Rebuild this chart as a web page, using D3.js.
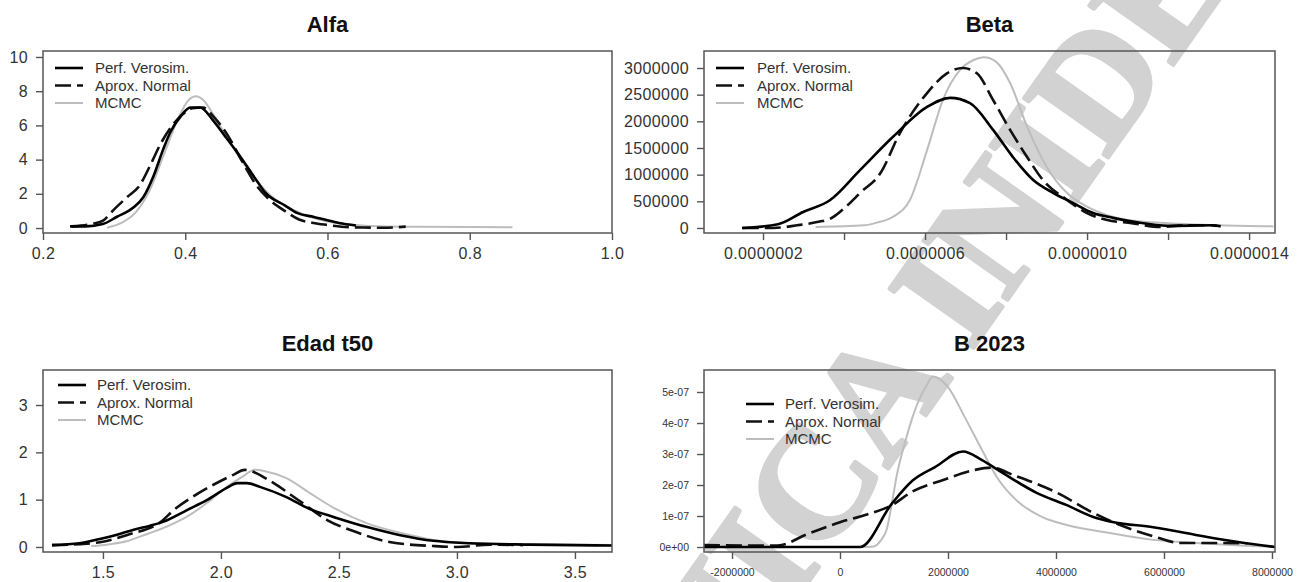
<!doctype html>
<html lang="es">
<head>
  <meta charset="utf-8">
  <script src="https://cdnjs.cloudflare.com/ajax/libs/d3/7.8.5/d3.min.js"></script>
  <style>
    html, body {margin:0; padding:0; background:#fff;}
    svg {display:block;}
    .tick text {font-family:"Liberation Sans", Arial, sans-serif; fill:#333;}
    .tick line {stroke:#555; stroke-width:1.4;}
    .title {font-family:"Liberation Sans", Arial, sans-serif; font-weight:bold; font-size:22px; fill:#111;}
    .legend text {font-family:"Liberation Sans", Arial, sans-serif; font-size:15px; fill:#333;}
  </style>
</head>
<body>
<svg id="chart" width="1309" height="582"></svg>
<script>
// ---- data ----
var seriesNames = ["Perf. Verosim.", "Aprox. Normal", "MCMC"];

// Alfa
var alfaPerf = [[0.238,0.1],[0.26,0.1],[0.284,0.23],[0.304,0.66],[0.327,1.2],[0.341,1.8],[0.355,3.0],[0.369,4.6],
  [0.379,5.6],[0.393,6.5],[0.407,7.05],[0.421,7.05],[0.439,6.3],[0.459,5.2],[0.477,4.2],[0.5,2.8],[0.512,2.1],
  [0.541,1.3],[0.558,0.87],[0.581,0.65],[0.6,0.45],[0.616,0.3],[0.64,0.15]];
var alfaNormal = [[0.24,0.1],[0.27,0.25],[0.285,0.45],[0.299,1.05],[0.318,1.8],[0.336,2.5],[0.35,3.6],[0.365,4.9],
  [0.38,5.9],[0.395,6.6],[0.41,7.0],[0.425,7.05],[0.44,6.5],[0.46,5.4],[0.48,3.9],[0.5,2.5],[0.52,1.6],[0.54,1.0],
  [0.56,0.5],[0.58,0.3],[0.6,0.18],[0.62,0.08],[0.65,0.03],[0.68,0.02],[0.71,0.08]];
var alfaMcmc = [[0.29,0.02],[0.31,0.3],[0.33,0.9],[0.35,2.2],[0.37,4.3],[0.39,6.4],[0.405,7.5],[0.415,7.7],[0.425,7.5],
  [0.44,6.6],[0.46,5.2],[0.48,3.9],[0.5,2.8],[0.52,1.9],[0.55,1.1],[0.58,0.6],[0.6,0.38],[0.63,0.2],[0.67,0.1],
  [0.72,0.07],[0.86,0.05]];
var alfaXTicks = [0.2, 0.4, 0.6, 0.8, 1.0];
var alfaXLabels = ["0.2", "0.4", "0.6", "0.8", "1.0"];
var alfaYTicks = [0, 2, 4, 6, 8, 10];
var alfaYLabels = ["0", "2", "4", "6", "8", "10"];

// Beta
var betaPerf = [[1.48e-7,0.0],[2.37e-7,0.07e6],[2.99e-7,0.3e6],[3.65e-7,0.52e6],[4.4e-7,1.09e6],[5.21e-7,1.71e6],
  [6.05e-7,2.27e6],[6.62e-7,2.44e6],[7.11e-7,2.34e6],[7.68e-7,1.84e6],[8.17e-7,1.33e6],[8.67e-7,0.9e6],
  [9.16e-7,0.66e6],[9.65e-7,0.47e6],[10.15e-7,0.28e6],[10.64e-7,0.19e6],[11.2e-7,0.11e6],[12.0e-7,0.04e6],
  [13.1e-7,0.05e6],[13.3e-7,0.03e6]];
var betaNormal = [[1.5e-7,0.0],[2.25e-7,0.0],[2.84e-7,0.05e6],[3.4e-7,0.12e6],[3.65e-7,0.17e6],[4.05e-7,0.4e6],
  [4.4e-7,0.66e6],[4.9e-7,1.03e6],[5.38e-7,1.78e6],[6.05e-7,2.53e6],[6.54e-7,2.9e6],[6.94e-7,3.0e6],[7.28e-7,2.9e6],
  [7.68e-7,2.4e6],[8.1e-7,1.84e6],[8.52e-7,1.33e6],[8.91e-7,0.9e6],[9.5e-7,0.53e6],[10.0e-7,0.28e6],
  [10.5e-7,0.15e6],[11.1e-7,0.09e6],[11.8e-7,0.02e6],[12.4e-7,0.05e6],[13.05e-7,0.05e6],[13.2e-7,0.04e6]];
var betaMcmc = [[3.3e-7,0.02e6],[4.5e-7,0.05e6],[4.81e-7,0.1e6],[5.21e-7,0.21e6],[5.63e-7,0.53e6],[6.05e-7,1.46e6],
  [6.44e-7,2.4e6],[6.86e-7,2.96e6],[7.2e-7,3.15e6],[7.45e-7,3.2e6],[7.75e-7,3.12e6],[8.1e-7,2.72e6],[8.52e-7,1.9e6],
  [9.0e-7,1.15e6],[9.5e-7,0.66e6],[10.0e-7,0.4e6],[10.5e-7,0.24e6],[11.0e-7,0.15e6],[11.8e-7,0.1e6],
  [13.3e-7,0.05e6],[14.6e-7,0.03e6]];
var betaXTicks = [2e-7, 4e-7, 6e-7, 8e-7, 10e-7, 12e-7, 14e-7];
var betaXLabels = ["0.0000002", "", "0.0000006", "", "0.0000010", "", "0.0000014"];
var betaYTicks = [0, 0.5e6, 1e6, 1.5e6, 2e6, 2.5e6, 3e6];
var betaYLabels = ["0", "500000", "1000000", "1500000", "2000000", "2500000", "3000000"];

// Edad t50
var edadPerf = [[1.284,0.04],[1.4,0.08],[1.487,0.17],[1.56,0.26],[1.627,0.36],[1.7,0.45],[1.754,0.53],[1.856,0.78],
  [1.94,0.99],[2.025,1.25],[2.07,1.35],[2.11,1.35],[2.165,1.27],[2.275,1.06],[2.377,0.8],[2.48,0.63],[2.62,0.42],
  [2.76,0.25],[2.9,0.13],[3.05,0.08],[3.31,0.05],[3.66,0.03]];
var edadNormal = [[1.284,0.04],[1.4,0.06],[1.487,0.1],[1.6,0.25],[1.75,0.55],[1.8,0.78],[1.88,1.06],[1.966,1.31],
  [2.05,1.52],[2.1,1.63],[2.13,1.6],[2.2,1.42],[2.34,0.95],[2.45,0.57],[2.57,0.32],[2.72,0.1],[2.9,0.02],[3.0,0.0],
  [3.14,0.05],[3.28,0.04]];
var edadMcmc = [[1.45,0.02],[1.53,0.06],[1.6,0.12],[1.657,0.22],[1.77,0.43],[1.856,0.64],[1.94,0.93],[2.025,1.27],
  [2.09,1.48],[2.144,1.63],[2.187,1.6],[2.275,1.46],[2.377,1.14],[2.48,0.82],[2.62,0.5],[2.76,0.3],[2.9,0.15],
  [3.05,0.08],[3.31,0.06],[3.66,0.04]];
var edadXTicks = [1.5, 2.0, 2.5, 3.0, 3.5];
var edadXLabels = ["1.5", "2.0", "2.5", "3.0", "3.5"];
var edadYTicks = [0, 1, 2, 3];
var edadYLabels = ["0", "1", "2", "3"];

// B 2023
var b23Perf = [[-2.52e6,0],[0.37e6,0],[0.96e6,1.4e-7],[1.35e6,2.15e-7],[1.76e6,2.58e-7],[2.28e6,3.08e-7],
  [2.63e6,2.8e-7],[3.02e6,2.38e-7],[3.65e6,1.74e-7],[4.2e6,1.35e-7],[4.69e6,0.97e-7],[5.07e6,0.8e-7],
  [5.8e6,0.64e-7],[6.59e6,0.39e-7],[7.37e6,0.16e-7],[8.06e6,0]];
var b23Normal = [[-2.52e6,0.06e-7],[-1.6e6,0.05e-7],[-1.15e6,0.05e-7],[-0.6e6,0.42e-7],[0,0.8e-7],[0.5e6,1.05e-7],
  [0.96e6,1.35e-7],[1.33e6,1.78e-7],[1.91e6,2.16e-7],[2.48e6,2.48e-7],[2.8e6,2.56e-7],[3.24e6,2.3e-7],
  [4.02e6,1.75e-7],[4.69e6,1.1e-7],[5.2e6,0.7e-7],[5.8e6,0.35e-7],[6.3e6,0.13e-7],[7.07e6,0.13e-7],[7.55e6,0.12e-7]];
var b23Mcmc = [[0.4e6,0],[0.62e6,0.02e-7],[0.75e6,0.2e-7],[0.87e6,0.6e-7],[0.97e6,1.5e-7],[1.05e6,2.3e-7],
  [1.2e6,3.35e-7],[1.44e6,4.65e-7],[1.6e6,5.2e-7],[1.72e6,5.5e-7],[2.0e6,5.16e-7],[2.31e6,4.19e-7],[2.63e6,3.13e-7],
  [2.94e6,2.16e-7],[3.26e6,1.52e-7],[3.74e6,0.97e-7],[4.2e6,0.71e-7],[5.0e6,0.45e-7],[5.8e6,0.23e-7],
  [6.59e6,0.13e-7],[7.4e6,0.05e-7],[8.06e6,0]];
var b23XTicks = [-2e6, 0, 2e6, 4e6, 6e6, 8e6];
var b23XLabels = ["-2000000", "0", "2000000", "4000000", "6000000", "8000000"];
var b23YTicks = [0, 1e-7, 2e-7, 3e-7, 4e-7, 5e-7];
var b23YLabels = ["0e+00", "1e-07", "2e-07", "3e-07", "4e-07", "5e-07"];

// ---- layout ----
var panels = [
  {title:"Alfa", left:43, right:612, top:51, bottom:233, xDomain:[0.2, 1.0], yDomain:[-0.29, 10.35],
   series:[alfaPerf, alfaNormal, alfaMcmc], xTicks:alfaXTicks, xLabels:alfaXLabels, yTicks:alfaYTicks, yLabels:alfaYLabels,
   fontSize:16, legend:{dx:12, dy:17, textDx:52}},
  {title:"Beta", left:704, right:1275, top:51, bottom:233, xDomain:[0.543e-7, 14.64e-7], yDomain:[-0.094e6, 3.319e6],
   series:[betaPerf, betaNormal, betaMcmc], xTicks:betaXTicks, xLabels:betaXLabels, yTicks:betaYTicks, yLabels:betaYLabels,
   fontSize:16, legend:{dx:12, dy:17, textDx:53}},
  {title:"Edad t50", left:43, right:612, top:370, bottom:552, xDomain:[1.246, 3.657], yDomain:[-0.106, 3.74],
   series:[edadPerf, edadNormal, edadMcmc], xTicks:edadXTicks, xLabels:edadXLabels, yTicks:edadYTicks, yLabels:edadYLabels,
   fontSize:16, legend:{dx:15, dy:15, textDx:54}},
  {title:"B 2023", left:704, right:1275, top:370, bottom:552, xDomain:[-2.519e6, 8.056e6], yDomain:[-0.161e-7, 5.71e-7],
   series:[b23Perf, b23Normal, b23Mcmc], xTicks:b23XTicks, xLabels:b23XLabels, yTicks:b23YTicks, yLabels:b23YLabels,
   fontSize:10.5, legend:{dx:42, dy:34, textDx:81}}
];

var styles = [
  {color:"#000", width:2.6, dash:null},
  {color:"#111", width:2.6, dash:"16,6"},
  {color:"#bdbdbd", width:2, dash:null}
];

var svg = d3.select("#chart");
svg.append("rect").attr("width", 1309).attr("height", 582).attr("fill", "#fff");

// watermark, sits under the plots
svg.append("g")
  .attr("transform", "translate(869,406) rotate(-54.8)")
  .append("text")
  .attr("text-anchor", "middle").attr("y", 52)
  .style("font-family", "'Liberation Serif', 'Times New Roman', serif")
  .style("font-weight", "bold").style("font-size", "157px")
  .attr("fill", "#d2d2d2")
  .attr("stroke", "#d2d2d2").attr("stroke-width", 4).attr("stroke-linejoin", "round")
  .text("TÉCNICA INIDEP");

panels.forEach(function(p, pi) {
  var x = d3.scaleLinear().domain(p.xDomain).range([p.left, p.right]);
  var y = d3.scaleLinear().domain(p.yDomain).range([p.bottom, p.top]);
  var g = svg.append("g");

  g.append("clipPath").attr("id", "clip" + pi)
    .append("rect").attr("x", p.left).attr("y", p.top)
    .attr("width", p.right - p.left).attr("height", p.bottom - p.top);

  var line = d3.line()
    .x(function(d){ return x(d[0]); })
    .y(function(d){ return y(d[1]); })
    .curve(d3.curveMonotoneX);

  // draw MCMC first so the black lines stay on top
  [2, 1, 0].forEach(function(si) {
    g.append("path")
      .datum(p.series[si])
      .attr("clip-path", "url(#clip" + pi + ")")
      .attr("d", line)
      .attr("fill", "none")
      .attr("stroke", styles[si].color)
      .attr("stroke-width", styles[si].width)
      .attr("stroke-dasharray", styles[si].dash)
      .attr("stroke-linejoin", "round");
  });

  // axes
  var xAxis = g.append("g").attr("transform", "translate(0," + p.bottom + ")")
    .call(d3.axisBottom(x).tickValues(p.xTicks).tickSize(7).tickPadding(p.fontSize > 12 ? 8 : 10)
      .tickFormat(function(d, i){ return p.xLabels[i]; }));
  var yAxis = g.append("g").attr("transform", "translate(" + p.left + ",0)")
    .call(d3.axisLeft(y).tickValues(p.yTicks).tickSize(7).tickPadding(8)
      .tickFormat(function(d, i){ return p.yLabels[i]; }));
  [xAxis, yAxis].forEach(function(a) {
    a.select(".domain").remove();
    a.selectAll("text").style("font-size", p.fontSize + "px").style("letter-spacing", p.fontSize > 12 ? "0.4px" : "0px");
  });

  // box
  g.append("rect")
    .attr("x", p.left).attr("y", p.top)
    .attr("width", p.right - p.left).attr("height", p.bottom - p.top)
    .attr("fill", "none").attr("stroke", "#555").attr("stroke-width", 1.5);

  // title
  g.append("text").attr("class", "title")
    .attr("x", (p.left + p.right) / 2).attr("y", p.top - 19)
    .attr("text-anchor", "middle").text(p.title);

  // legend
  var lg = g.append("g").attr("class", "legend");
  seriesNames.forEach(function(name, si) {
    var ly = p.top + p.legend.dy + si * 17.5;
    lg.append("line")
      .attr("x1", p.left + p.legend.dx).attr("x2", p.left + p.legend.dx + 28)
      .attr("y1", ly).attr("y2", ly)
      .attr("stroke", styles[si].color).attr("stroke-width", styles[si].width)
      .attr("stroke-dasharray", styles[si].dash);
    lg.append("text")
      .attr("x", p.left + p.legend.textDx).attr("y", ly).attr("dy", "0.35em")
      .text(name);
  });
});
</script>
</body>
</html>
